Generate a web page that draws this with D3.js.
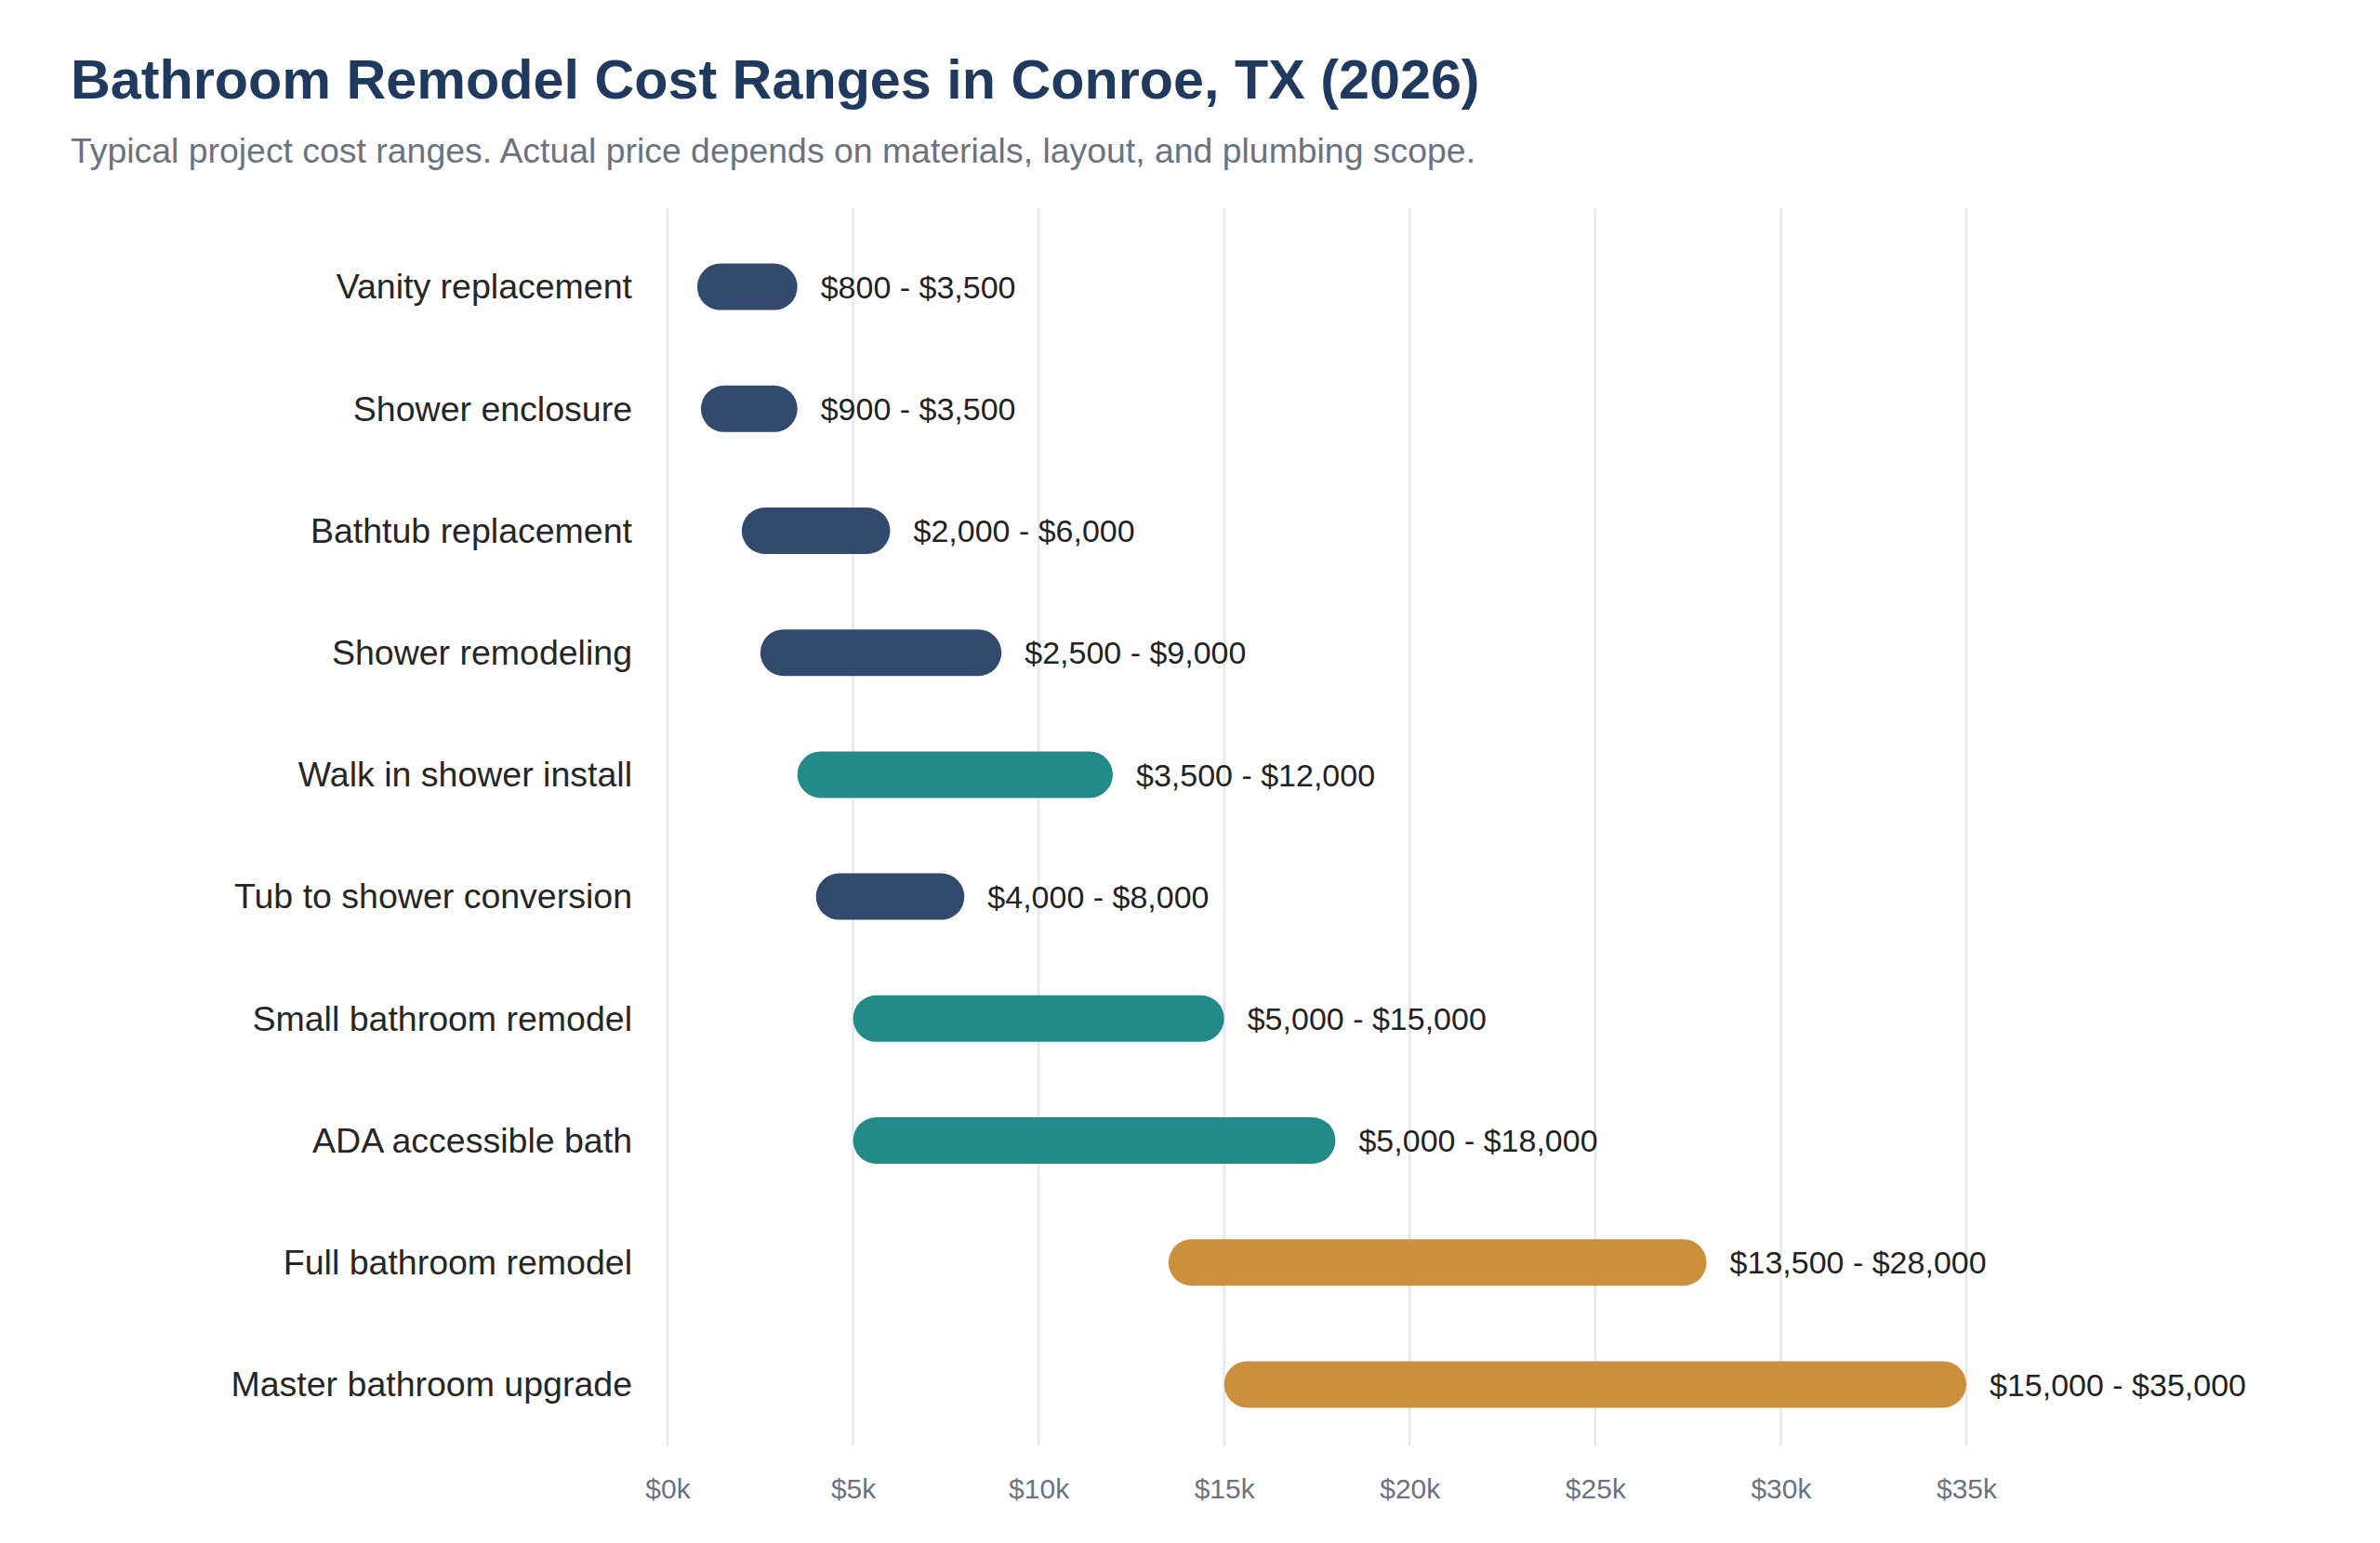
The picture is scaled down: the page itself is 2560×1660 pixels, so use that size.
<!DOCTYPE html>
<html>
<head>
<meta charset="utf-8">
<script src="https://cdn.jsdelivr.net/npm/d3@7"></script>
<style>
  html, body { margin: 0; padding: 0; background: #ffffff; }
  svg { display: block; font-family: "Liberation Sans", Arial, Helvetica, sans-serif; }
</style>
</head>
<body>
<svg id="chart" width="2560" height="1660"></svg>
<script>
const categories = [
  "Vanity replacement",
  "Shower enclosure",
  "Bathtub replacement",
  "Shower remodeling",
  "Walk in shower install",
  "Tub to shower conversion",
  "Small bathroom remodel",
  "ADA accessible bath",
  "Full bathroom remodel",
  "Master bathroom upgrade"
];
const lowValues  = [800, 900, 2000, 2500, 3500, 4000, 5000, 5000, 13500, 15000];
const highValues = [3500, 3500, 6000, 9000, 12000, 8000, 15000, 18000, 28000, 35000];
const tiers      = ["basic", "basic", "basic", "basic", "mid", "basic", "mid", "mid", "premium", "premium"];
const tickValues = [0, 5000, 10000, 15000, 20000, 25000, 30000, 35000];
const tickLabels = ["$0k", "$5k", "$10k", "$15k", "$20k", "$25k", "$30k", "$35k"];

const tierColors = { basic: "#324a6d", mid: "#228a88", premium: "#cc8f3b" };

const data = categories.map((c, i) => ({ name: c, lo: lowValues[i], hi: highValues[i], tier: tiers[i] }));

const svg = d3.select("#chart");
const x = d3.scaleLinear().domain([0, 35000]).range([718, 2115]);
const y = d3.scaleBand().domain(categories).range([243, 1555]).padding(0);

const fmt = d3.format(",");

// Title & subtitle
svg.append("text")
  .attr("x", 76).attr("y", 106)
  .attr("font-size", 59.3).attr("font-weight", 700)
  .attr("fill", "#1f3a5e")
  .text("Bathroom Remodel Cost Ranges in Conroe, TX (2026)");
svg.append("text")
  .attr("x", 76).attr("y", 175)
  .attr("font-size", 37.4)
  .attr("fill", "#6b7280")
  .text("Typical project cost ranges. Actual price depends on materials, layout, and plumbing scope.");

// Grid lines
const gridTop = 224, gridBottom = 1555;
svg.append("g").selectAll("line")
  .data(tickValues).join("line")
  .attr("x1", d => x(d)).attr("x2", d => x(d))
  .attr("y1", gridTop).attr("y2", gridBottom)
  .attr("stroke", "#e5e7eb").attr("stroke-width", 2.5);

// X axis (labels only)
const xAxis = d3.axisBottom(x)
  .tickValues(tickValues)
  .tickFormat((d, i) => tickLabels[i])
  .tickSize(0).tickPadding(0);
const gx = svg.append("g").attr("transform", `translate(0, 1590)`).call(xAxis);
gx.select(".domain").remove();
gx.selectAll("text")
  .attr("font-size", 30)
  .attr("font-family", "Liberation Sans, Arial, sans-serif")
  .attr("fill", "#6b7280")
  .attr("dy", "0.73em");

// Y axis labels
const yAxis = d3.axisLeft(y).tickSize(0).tickPadding(0);
const gy = svg.append("g").attr("transform", `translate(680, 0)`).call(yAxis);
gy.select(".domain").remove();
gy.selectAll("text")
  .attr("font-size", 37.5)
  .attr("font-family", "Liberation Sans, Arial, sans-serif")
  .attr("fill", "#262626")
  .attr("dy", "0.34em");

// Bars
const barH = 50;
svg.append("g").selectAll("rect")
  .data(data).join("rect")
  .attr("x", d => x(d.lo))
  .attr("width", d => x(d.hi) - x(d.lo))
  .attr("y", d => y(d.name) + y.bandwidth() / 2 - barH / 2)
  .attr("height", barH)
  .attr("rx", barH / 2).attr("ry", barH / 2)
  .attr("fill", d => tierColors[d.tier]);

// Value labels
svg.append("g").selectAll("text")
  .data(data).join("text")
  .attr("x", d => x(d.hi) + 25)
  .attr("y", d => y(d.name) + y.bandwidth() / 2)
  .attr("dy", "0.36em")
  .attr("font-size", 34)
  .attr("fill", "#222222")
  .text(d => `$${fmt(d.lo)} - $${fmt(d.hi)}`);
</script>
</body>
</html>
